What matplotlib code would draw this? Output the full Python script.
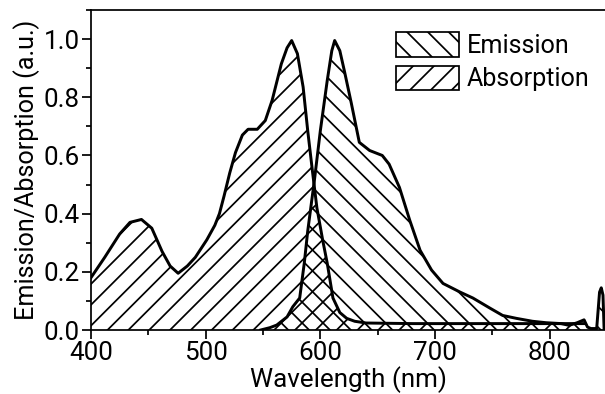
import matplotlib
matplotlib.use("Agg")
import matplotlib.pyplot as plt
from matplotlib.ticker import MultipleLocator, FormatStrFormatter

# Absorption spectrum (normalized)
abs_x = [400, 412, 425, 434, 444, 453, 462, 469, 476, 484, 491, 501, 508, 512, 516,
         521, 526, 532, 537, 545, 552, 558, 566, 571, 575, 580, 585, 589, 593, 597,
         602, 606, 611, 617, 623, 630, 640, 680, 720, 760, 800, 830]
abs_y = [0.18, 0.25, 0.33, 0.37, 0.38, 0.35, 0.27, 0.22, 0.195, 0.22, 0.25, 0.31, 0.36, 0.40, 0.46,
         0.54, 0.61, 0.67, 0.69, 0.69, 0.72, 0.79, 0.915, 0.97, 0.995, 0.95, 0.835, 0.685, 0.55, 0.42,
         0.31, 0.23, 0.11, 0.06, 0.04, 0.03, 0.024, 0.022, 0.022, 0.022, 0.022, 0.022]

# Emission spectrum (normalized)
em_x = [548, 556, 562, 571, 576, 582, 586, 589, 592, 595, 600, 606, 610, 612.5, 617,
        621, 627, 634, 643, 654, 660, 669, 678, 687, 697, 707, 722, 733, 748, 759,
        771, 785, 797, 810, 817, 824, 830, 833, 836, 841, 843.5, 845, 846.5, 847.5]
em_y = [0.0, 0.008, 0.017, 0.045, 0.08, 0.11, 0.23, 0.34, 0.43, 0.52, 0.685, 0.857, 0.96, 0.995, 0.96,
        0.89, 0.78, 0.645, 0.617, 0.60, 0.57, 0.49, 0.377, 0.274, 0.206, 0.16, 0.13, 0.11, 0.075, 0.05,
        0.04, 0.03, 0.025, 0.022, 0.016, 0.025, 0.035, 0.01, 0.005, 0.005, 0.13, 0.145, 0.12, 0.0]

labels = ["Emission", "Absorption"]
xlabel = "Wavelength (nm)"
ylabel = "Emission/Absorption (a.u.)"

FONT = "Roboto"
plt.rcParams["font.family"] = [FONT, "DejaVu Sans"]
plt.rcParams["hatch.linewidth"] = 1.0
plt.rcParams["hatch.color"] = "black"

DPI = 125
fig = plt.figure(figsize=(605 / DPI, 394 / DPI), dpi=DPI)
ax = fig.add_axes([91 / 605, 64 / 394, 516 / 605, 320 / 394])

h_abs = ax.fill_between(abs_x, 0, abs_y, facecolor="none", edgecolor="black",
                        linewidth=0, hatch="//", label=labels[1])
h_em = ax.fill_between(em_x, 0, em_y, facecolor="none", edgecolor="black",
                       linewidth=0, hatch="\\\\", label=labels[0])
ax.plot(abs_x, abs_y, color="black", lw=1.7, solid_joinstyle="round")
ax.plot(em_x, em_y, color="black", lw=1.7, solid_joinstyle="round")

ax.set_xlim(400, 850)
ax.set_ylim(0, 1.1)
ax.xaxis.set_major_locator(MultipleLocator(100))
ax.xaxis.set_minor_locator(MultipleLocator(50))
ax.yaxis.set_major_locator(MultipleLocator(0.2))
ax.yaxis.set_minor_locator(MultipleLocator(0.1))
ax.yaxis.set_major_formatter(FormatStrFormatter("%.1f"))
ax.tick_params(which="major", direction="out", length=5, width=1.0, labelsize=15, pad=1.5)
ax.tick_params(which="minor", direction="out", length=3, width=1.0)
for s in ax.spines.values():
    s.set_linewidth(1.0)
ax.spines["right"].set_visible(False)

ax.set_xlabel(xlabel, fontsize=15, labelpad=0.5)
ax.set_ylabel(ylabel, fontsize=14.5, labelpad=2)

leg = ax.legend([h_em, h_abs], labels, loc="upper right", bbox_to_anchor=(1.0, 0.985),
                frameon=False, fontsize=14.5, handlelength=2.5, handleheight=1.1,
                handletextpad=0.3, labelspacing=0.3, borderaxespad=0.3)
for p in leg.get_patches():
    p.set_linewidth(1.0)

fig.savefig("out.png", dpi=DPI)
